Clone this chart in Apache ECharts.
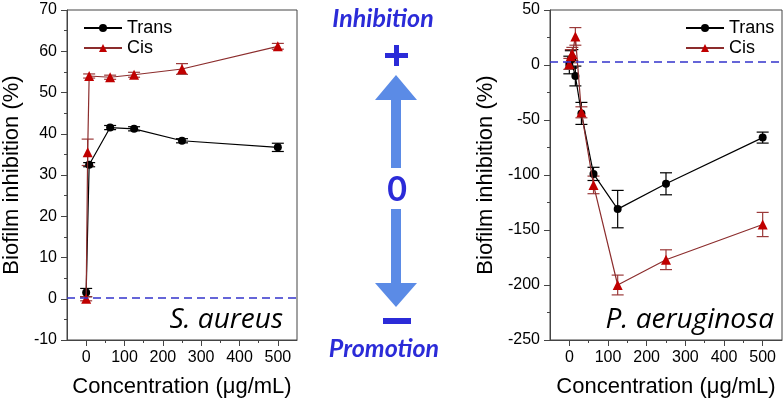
<!DOCTYPE html>
<html>
<head>
<meta charset="utf-8">
<script src="https://cdn.jsdelivr.net/npm/echarts@6/dist/echarts.min.js"></script>
<style>html,body{margin:0;padding:0;background:#fff}#c{width:784px;height:404px}</style>
</head>
<body>
<div id="c"></div>
<script>
// ---- Data (S. aureus, left panel) ----
const saTransX = [0, 7.8, 62.5, 125, 250, 500];
const saTransY = [1.5, 32.5, 41.5, 41.2, 38.3, 36.7];
const saTransErr = [1.0, 0.5, 0.5, 0.5, 0.5, 1.0];
const saCisX = [0, 3.9, 7.8, 62.5, 125, 250, 500];
const saCisY = [0, 35.5, 54.0, 53.7, 54.3, 55.7, 61.2];
const saCisErr = [0.5, 3.2, 0.5, 0.5, 0.6, 1.3, 0.7];

// ---- Data (P. aeruginosa, right panel) ----
const paTransX = [0, 3.9, 7.8, 15.6, 31.25, 62.5, 125, 250, 500];
const paTransY = [0, 5, 6, -10, -44, -99, -131, -108, -66];
const paTransErr = [8, 8, 8, 9, 10, 6, 17, 10, 5];
const paCisX = [0, 3.9, 7.8, 15.6, 31.25, 62.5, 125, 250, 500];
const paCisY = [1, 8, 10, 26, -43, -109, -200, -177, -145];
const paCisErr = [5, 6, 6, 8, 5, 8, 9, 9, 11];

// ---- Tick labels ----
const xMajorTicks = [0, 100, 200, 300, 400, 500];
const xMinorTicks = [50, 150, 250, 350, 450];
const seriesNames = ['Trans', 'Cis'];

const AX = '#444';
const CIS_LINE = '#8c2d2d';
const CIS_MARK = '#c00000';
const CIS_ERR = '#9b3a3a';
const BLUE_TXT = '#2b2bd8';
const ARROW = '#5b8be6';
const FONT = 'Liberation Sans, Arial, sans-serif';

function pairs(xs, ys) { return xs.map((x, i) => [x, ys[i]]); }
function errs(xs, ys, es) { return xs.map((x, i) => [x, ys[i] - es[i], ys[i] + es[i]]); }

function errSeries(data, color, xi, yi) {
  return {
    type: 'custom', xAxisIndex: xi, yAxisIndex: yi, silent: true, z: 1,
    data: data,
    renderItem: function (params, api) {
      const x = api.value(0), lo = api.value(1), hi = api.value(2);
      const p1 = api.coord([x, hi]);
      const p2 = api.coord([x, lo]);
      const w = 6;
      const st = { stroke: color, lineWidth: 1.2 };
      return {
        type: 'group',
        children: [
          { type: 'line', shape: { x1: p1[0], y1: p1[1], x2: p2[0], y2: p2[1] }, style: st },
          { type: 'line', shape: { x1: p1[0] - w, y1: p1[1], x2: p1[0] + w, y2: p1[1] }, style: st },
          { type: 'line', shape: { x1: p2[0] - w, y1: p2[1], x2: p2[0] + w, y2: p2[1] }, style: st }
        ]
      };
    }
  };
}

function xMain(gi) {
  return {
    type: 'value', gridIndex: gi, min: -50, max: 550, interval: 50, position: 'bottom',
    axisLine: { show: true, onZero: false, lineStyle: { color: AX, width: 1 } },
    axisTick: { show: true, length: 6, customValues: xMajorTicks, lineStyle: { color: AX } },
    axisLabel: { customValues: xMajorTicks, fontSize: 16, color: '#000', margin: 10, fontFamily: FONT },
    splitLine: { show: false },
    name: 'Concentration (μg/mL)', nameLocation: 'middle', nameGap: 36,
    nameTextStyle: { fontSize: 22, color: '#000', fontFamily: FONT }
  };
}
function xMinor(gi) {
  return {
    type: 'value', gridIndex: gi, min: -50, max: 550, interval: 50, position: 'bottom',
    axisLine: { show: false, onZero: false },
    axisTick: { show: true, length: 3, customValues: xMinorTicks, lineStyle: { color: AX } },
    axisLabel: { show: false },
    splitLine: { show: false }
  };
}
function yAxis(gi, min, max, interval, gap) {
  return {
    type: 'value', gridIndex: gi, min: min, max: max, interval: interval,
    axisLine: { show: true, onZero: false, lineStyle: { color: AX, width: 1 } },
    axisTick: { show: true, length: 6, lineStyle: { color: AX } },
    minorTick: { show: true, splitNumber: 2, length: 3, lineStyle: { color: AX } },
    axisLabel: { fontSize: 16, color: '#000', margin: 10, fontFamily: FONT },
    splitLine: { show: false },
    name: 'Biofilm inhibition (%)', nameLocation: 'middle', nameGap: gap,
    nameTextStyle: { fontSize: 22, color: '#000', fontFamily: FONT }
  };
}

function dashLine(v) {
  return {
    silent: true, symbol: 'none', animation: false,
    label: { show: false },
    lineStyle: { type: [8, 5], color: '#3333cc', width: 1.5 },
    data: [{ yAxis: v }]
  };
}

const chart = echarts.init(document.getElementById('c'), null, { renderer: 'canvas' });
chart.setOption({
  animation: false,
  backgroundColor: '#fff',
  grid: [
    { left: 65, top: 10, width: 232, height: 330, show: true, borderColor: AX, borderWidth: 1, backgroundColor: 'transparent' },
    { left: 550, top: 10, width: 232, height: 330, show: true, borderColor: AX, borderWidth: 1, backgroundColor: 'transparent' }
  ],
  xAxis: [xMain(0), xMinor(0), xMain(1), xMinor(1)],
  yAxis: [yAxis(0, -10, 70, 10, 44), yAxis(1, -250, 50, 50, 53)],
  legend: [
    { data: seriesNames, orient: 'vertical', left: 78, top: 14, itemWidth: 38, itemHeight: 10, itemGap: 2,
      textStyle: { fontSize: 18, color: '#000', fontFamily: FONT } },
    { data: seriesNames, orient: 'vertical', left: 680, top: 14, itemWidth: 38, itemHeight: 10, itemGap: 2,
      textStyle: { fontSize: 18, color: '#000', fontFamily: FONT } }
  ],
  series: [
    errSeries(errs(saTransX, saTransY, saTransErr), '#000', 0, 0),
    errSeries(errs(saCisX, saCisY, saCisErr), CIS_ERR, 0, 0),
    { name: 'Trans', type: 'line', xAxisIndex: 0, yAxisIndex: 0, data: pairs(saTransX, saTransY),
      symbol: 'circle', symbolSize: 8, lineStyle: { color: '#000', width: 1.2 }, itemStyle: { color: '#000' }, z: 3,
      markLine: dashLine(0.3) },
    { name: 'Cis', type: 'line', xAxisIndex: 0, yAxisIndex: 0, data: pairs(saCisX, saCisY),
      symbol: 'triangle', symbolSize: 10, lineStyle: { color: CIS_LINE, width: 1.2 }, itemStyle: { color: CIS_MARK }, z: 4 },
    errSeries(errs(paTransX, paTransY, paTransErr), '#000', 2, 1),
    errSeries(errs(paCisX, paCisY, paCisErr), CIS_ERR, 2, 1),
    { name: 'Trans', type: 'line', xAxisIndex: 2, yAxisIndex: 1, data: pairs(paTransX, paTransY),
      symbol: 'circle', symbolSize: 8, lineStyle: { color: '#000', width: 1.2 }, itemStyle: { color: '#000' }, z: 3,
      markLine: dashLine(3) },
    { name: 'Cis', type: 'line', xAxisIndex: 2, yAxisIndex: 1, data: pairs(paCisX, paCisY),
      symbol: 'triangle', symbolSize: 10, lineStyle: { color: CIS_LINE, width: 1.2 }, itemStyle: { color: CIS_MARK }, z: 4 }
  ],
  graphic: [
    { type: 'text', x: 283, y: 320, style: { text: 'S. aureus', align: 'right', verticalAlign: 'middle',
      font: 'italic 28px "Open Sans", Lato, sans-serif', fill: '#000' } },
    { type: 'text', x: 774, y: 320, style: { text: 'P. aeruginosa', align: 'right', verticalAlign: 'middle',
      font: 'italic 28px "Open Sans", Lato, sans-serif', fill: '#000' } },
    { type: 'text', x: 383, y: 19, style: { text: 'Inhibition', align: 'center', verticalAlign: 'middle',
      font: 'italic bold 25px Lato, "Open Sans", sans-serif', fill: BLUE_TXT } },
    { type: 'text', x: 384, y: 349, style: { text: 'Promotion', align: 'center', verticalAlign: 'middle',
      font: 'italic bold 25px Lato, "Open Sans", sans-serif', fill: BLUE_TXT } },
    { type: 'text', x: 397, y: 190, style: { text: '0', align: 'center', verticalAlign: 'middle',
      font: 'bold 34px Lato, "Open Sans", sans-serif', fill: BLUE_TXT } },
    { type: 'rect', shape: { x: 385, y: 53, width: 23, height: 5 }, style: { fill: BLUE_TXT } },
    { type: 'rect', shape: { x: 394, y: 45, width: 5, height: 21 }, style: { fill: BLUE_TXT } },
    { type: 'rect', shape: { x: 383, y: 318, width: 28, height: 6 }, style: { fill: BLUE_TXT } },
    { type: 'polygon', shape: { points: [[396, 75], [417, 100], [401, 100], [401, 168], [391, 168], [391, 100], [375, 100]] },
      style: { fill: ARROW } },
    { type: 'polygon', shape: { points: [[391, 209], [401, 209], [401, 283], [417, 283], [396, 307], [375, 283], [391, 283]] },
      style: { fill: ARROW } }
  ]
});
</script>
</body>
</html>
